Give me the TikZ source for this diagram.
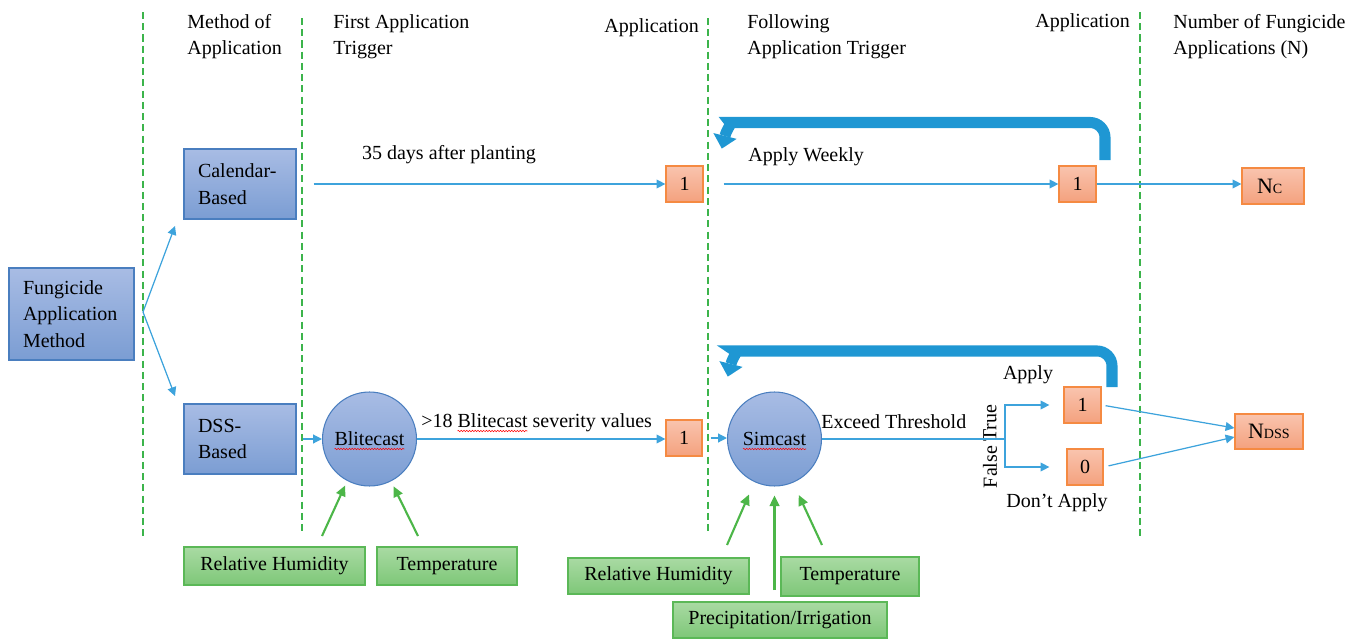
\documentclass[tikz,border=0pt]{standalone}
\usepackage{fontspec}
\setmainfont{Liberation Serif}
\usetikzlibrary{arrows.meta,decorations.pathmorphing}
\definecolor{bluetop}{HTML}{A8BCE4}
\definecolor{bluebot}{HTML}{7B9DD3}
\definecolor{blueedge}{HTML}{4A7EBF}
\definecolor{orangetop}{HTML}{F9C4AE}
\definecolor{orangebot}{HTML}{F4A17E}
\definecolor{orangeedge}{HTML}{F58A42}
\definecolor{greentop}{HTML}{A9DAA3}
\definecolor{greenbot}{HTML}{7EC778}
\definecolor{greenedge}{HTML}{5BB857}
\definecolor{connblue}{HTML}{3DA3DC}
\definecolor{bigblue}{HTML}{1F97D3}
\definecolor{divgreen}{HTML}{3CB44B}
\definecolor{arrgreen}{HTML}{4CB648}
\begin{document}
\begin{tikzpicture}[x=0.02cm,y=-0.02cm,
  font=\fontsize{11.38}{15}\selectfont,
  bluebox/.style={draw=blueedge, line width=0.6pt, top color=bluetop, bottom color=bluebot, align=left, inner ysep=0pt},
  circ/.style={circle, draw=blueedge, line width=0.6pt, top color=bluetop, bottom color=bluebot, minimum size=1.88cm, inner sep=0pt},
  orangebox/.style={draw=orangeedge, line width=0.7pt, top color=orangetop, bottom color=orangebot, inner sep=0pt},
  greenbox/.style={draw=greenedge, line width=0.7pt, top color=greentop, bottom color=greenbot, inner sep=0pt},
  connline/.style={draw=connblue, line width=0.7pt},
  conn/.style={connline, -{Triangle[length=5pt,width=5pt]}},
  garrow/.style={draw=arrgreen, line width=1.2pt, -{Triangle[length=6pt,width=5.5pt]}},
  divider/.style={draw=divgreen, line width=1.1pt, dash pattern=on 4pt off 2.4pt},
  bigarrow/.style={draw=bigblue, line width=6.3pt, rounded corners=0.3cm},
  header/.style={align=left, inner sep=0pt},
  lbl/.style={inner sep=0pt},
  squiggle/.style={draw=red, line width=0.3pt, decorate, decoration={snake, amplitude=0.4pt, segment length=1.6pt}}
]
\useasboundingbox (0,0) rectangle (1363,639);

% dividers
\draw[divider] (143,12) -- (143,537);
\draw[divider] (302,18) -- (302,533);
\draw[divider] (708,18) -- (708,532);
\draw[divider] (1140,12) -- (1140,537);

% headers
\node[header, anchor=north west] (h1) at (187,14) {Method of\\Application};
\node[header, anchor=north west] (h2) at (333,14) {First Application\\Trigger};
\node[lbl, anchor=base west] (h3) at (604,32) {Application};
\node[header, anchor=north west] (h4) at (747,14) {Following\\Application Trigger};
\node[lbl, anchor=base west] (h5) at (1035,28) {Application};
\node[header, anchor=north west] (h6) at (1173,14) {Number of Fungicide\\Applications (N)};

% blue boxes
\node[bluebox, text width=1.94cm, inner xsep=0.28cm, minimum height=1.84cm] (fam) at (71.5,314) {Fungicide\\Application\\Method};
\node[bluebox, text width=1.68cm, inner xsep=0.28cm, minimum height=1.4cm] (cal) at (240,184) {Calendar-\\Based};
\node[bluebox, text width=1.68cm, inner xsep=0.28cm, minimum height=1.4cm] (dss) at (240,439) {DSS-\\Based};
\node[circ] (blit) at (369.5,439) {Blitecast};
\node[circ] (sim) at (774.5,439) {Simcast};

% orange boxes
\node[orangebox, minimum width=0.74cm, minimum height=0.72cm] (a1) at (684.5,184) {1};
\node[orangebox, minimum width=0.74cm, minimum height=0.72cm] (a2) at (1077.5,184) {1};
\node[orangebox, text width=0.64cm, inner xsep=0.3cm, align=left, minimum height=0.72cm] (nc) at (1273,186) {{\fontsize{12.5}{12.5}\selectfont N}{\fontsize{8}{8}\selectfont C}};
\node[orangebox, minimum width=0.72cm, minimum height=0.72cm] (b1) at (684,438) {1};
\node[orangebox, minimum width=0.74cm, minimum height=0.72cm] (ap1) at (1082.5,405) {1};
\node[orangebox, minimum width=0.72cm, minimum height=0.72cm] (zero) at (1085,467) {0};
\node[orangebox, text width=0.84cm, inner xsep=0.26cm, align=left, minimum height=0.70cm] (ndss) at (1269,431.5) {{\fontsize{12.5}{12.5}\selectfont N}{\fontsize{8}{8}\selectfont DSS}};

% green boxes
\node[greenbox, minimum width=3.62cm, minimum height=0.76cm] (rh1) at (274.5,566) {Relative Humidity};
\node[greenbox, minimum width=2.8cm, minimum height=0.76cm] (t1) at (447,566) {Temperature};
\node[greenbox, minimum width=3.62cm, minimum height=0.72cm] (rh2) at (658.5,576) {Relative Humidity};
\node[greenbox, minimum width=2.76cm, minimum height=0.78cm] (t2) at (850,576.5) {Temperature};
\node[greenbox, minimum width=4.28cm, minimum height=0.72cm] (pi) at (780,620) {Precipitation/Irrigation};

% labels
\node[lbl] (l35) at (449,155) {35 days after planting};
\node[lbl, anchor=west] (lweekly) at (748,157) {Apply Weekly};
\node[lbl, anchor=west] (l18) at (421,423) {>18 Blitecast severity values};
\node[lbl, anchor=west] (lexc) at (821,422) {Exceed Threshold};
\node[lbl, rotate=90] (ltrue) at (990,423) {True};
\node[lbl, rotate=90] (lfalse) at (990,467) {False};
\node[lbl] (lapply) at (1028,375) {Apply};
\node[lbl] (ldont) at (1057,503) {Don’t Apply};

% spell-check squiggles
\draw[squiggle] ([xshift=-0.7cm,yshift=-0.2cm]blit.center) -- ([xshift=0.7cm,yshift=-0.2cm]blit.center);
\draw[squiggle] ([xshift=-0.63cm,yshift=-0.2cm]sim.center) -- ([xshift=0.63cm,yshift=-0.2cm]sim.center);
\draw[squiggle] ([xshift=0.73cm,yshift=-0.16cm]l18.west) -- ([xshift=2.13cm,yshift=-0.16cm]l18.west);

% connectors
\coordinate (split1) at (143,312);
\coordinate (calin) at (175,226);
\coordinate (dssin) at (175,396);
\draw[conn] (split1) -- (calin);
\draw[conn] (split1) -- (dssin);
\draw[conn, shorten <=0.34cm] (cal) -- (a1);
\draw[conn, shorten <=0.4cm] (a1) -- (a2);
\draw[conn] (a2.east) -- (a2.east -| nc.west);
\draw[conn, shorten <=0.12cm] (dss) -- (blit);
\draw[conn] (blit.east) -- (blit.east -| b1.west);
\draw[conn, shorten <=0.16cm] (b1.east) -- (b1.east -| sim.west);
\coordinate (split2) at (1005,439);
\draw[connline] (sim.east) -- (split2);
\draw[conn, shorten >=0.28cm] (split2) |- (ap1.west);
\draw[conn, shorten >=0.34cm] (split2) |- (zero.west);
\draw[conn, shorten <=0.08cm] (ap1.east) -- ([yshift=0.07cm]ndss.west);
\draw[conn, shorten <=0.1cm] (zero.east) -- ([yshift=-0.11cm]ndss.west);

% green input arrows
\coordinate (g1) at (322,536);
\coordinate (g2) at (418,536);
\coordinate (g3) at (727,545);
\coordinate (g4) at (774.5,590);
\coordinate (g5) at (822,545);
\draw[garrow, shorten >=0.1cm] (g1) -- (blit.242);
\draw[garrow, shorten >=0.11cm] (g2) -- (blit.297);
\draw[garrow, shorten >=0.27cm] (g3) -- (sim.245);
\draw[garrow, shorten >=0.18cm] (g4) -- (sim.270);
\draw[garrow, shorten >=0.27cm] (g5) -- (sim.293);

% loop-back arrows
\draw[bigarrow] (1105,160) -- (1105,122.5) -- (745,122.5) .. controls (733,122.5) and (727,128) .. (725,136);
\fill[bigblue] (713.4,133.1) -- (721.8,148.6) -- (736.6,138.9) -- cycle;
\draw[bigarrow] (1112,387) -- (1112,351) -- (750,351) .. controls (739,351) and (733,356) .. (731,364);
\fill[bigblue] (719.4,361.1) -- (727.8,376.6) -- (742.6,366.9) -- cycle;
\end{tikzpicture}
\end{document}
